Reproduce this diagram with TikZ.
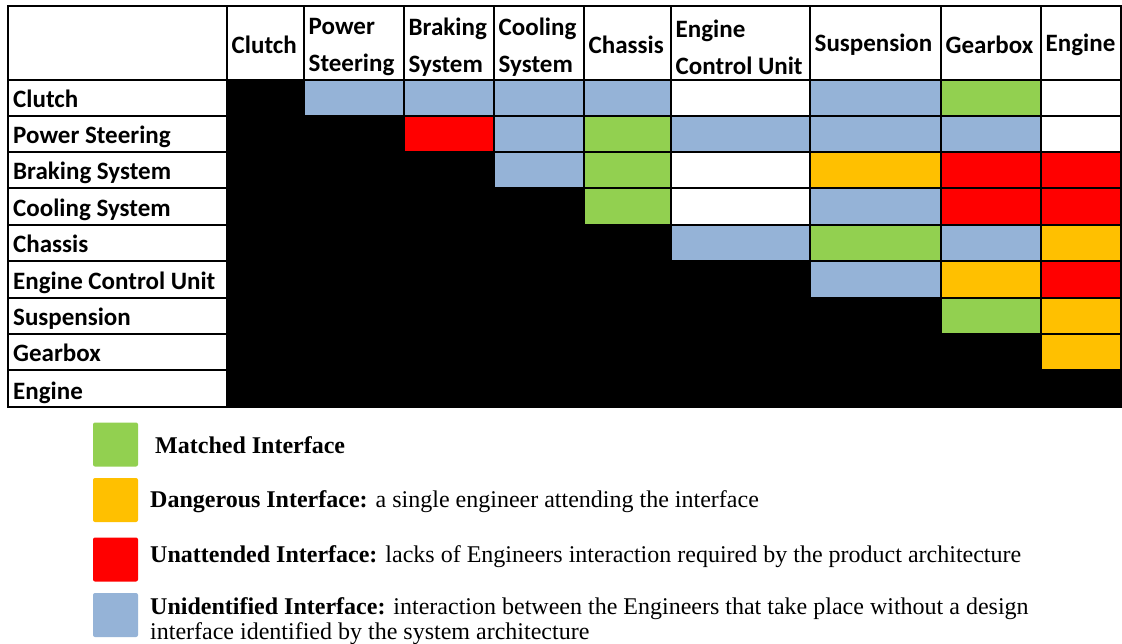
\documentclass[tikz,border=0pt]{standalone}
\usepackage{fontspec}
\setmainfont{Carlito}
\newfontfamily\legfont{Liberation Serif}
\definecolor{cU}{HTML}{95B3D7}
\definecolor{cM}{HTML}{92D050}
\definecolor{cD}{HTML}{FFC000}
\definecolor{cR}{HTML}{FF0000}
\definecolor{cK}{HTML}{000000}
\definecolor{cW}{HTML}{FFFFFF}
\begin{document}
\begin{tikzpicture}[x=1pt,y=-1pt,
  cellbox/.style={draw=black, line width=1.5pt, inner sep=0pt, outer sep=0pt},
  hdr/.style={font=\fontsize{25}{37}\selectfont\bfseries, anchor=west, align=left, inner sep=0pt},
  lbl/.style={font=\fontsize{25}{30}\selectfont\bfseries, anchor=base west, inner sep=0pt},
  swatch/.style={rounded corners=2pt, minimum width=45pt, minimum height=44pt, inner sep=0pt},
  legtxt/.style={font=\legfont\fontsize{24}{25}\selectfont, anchor=base west, align=left, inner sep=0pt}]

\useasboundingbox[fill=white] (0,0) rectangle (1122,644);

% column and row boundaries of the matrix
\def\xs{{8,227,304,404,494,584,671,810,941,1041,1121}}
\def\ys{{6,80,116,152,188,225,261,298,334,370,407}}

% empty corner cell
\node[cellbox, fill=white, minimum width=219pt, minimum height=74pt] (corner) at (117.5,43) {};

% header row
\foreach \c/\t/\dy in {1/Clutch/-2, 2/{Power\\Steering}/-4.5, 3/{Braking\\System}/-4.5, 4/{Cooling\\System}/-4.5,
                   5/Chassis/-2, 6/{Engine\\Control Unit}/-4.5, 7/Suspension/-2, 8/Gearbox/-2, 9/Engine/-2}{
  \pgfmathsetmacro\xl{\xs[\c]}
  \pgfmathsetmacro\xr{\xs[\c+1]}
  \node[cellbox, fill=white, minimum width={(\xr-\xl)*1pt}, minimum height=74pt]
    (h\c) at ({(\xl+\xr)/2},43) {};
  \node[hdr] (ht\c) at ([xshift=4.5pt,yshift=\dy pt]h\c.west) {\t};
}

% body rows: label cell plus one coloured cell per column
\foreach \r/\t/\cells in {
  1/Clutch/{K,U,U,U,U,W,U,M,W},
  2/Power Steering/{K,K,R,U,M,U,U,U,W},
  3/Braking System/{K,K,K,U,M,W,D,R,R},
  4/Cooling System/{K,K,K,K,M,W,U,R,R},
  5/Chassis/{K,K,K,K,K,U,M,U,D},
  6/Engine Control Unit/{K,K,K,K,K,K,U,D,R},
  7/Suspension/{K,K,K,K,K,K,K,M,D},
  8/Gearbox/{K,K,K,K,K,K,K,K,D},
  9/Engine/{K,K,K,K,K,K,K,K,K}}{
  \pgfmathsetmacro\yt{\ys[\r]}
  \pgfmathsetmacro\yb{\ys[\r+1]}
  \node[cellbox, fill=white, minimum width=219pt, minimum height={(\yb-\yt)*1pt}]
    (l\r) at (117.5,{(\yt+\yb)/2}) {};
  \node[lbl] (lt\r) at (13,\yb-8) {\t};
  \foreach \col [count=\c] in \cells {
    \pgfmathsetmacro\xl{\xs[\c]}
    \pgfmathsetmacro\xr{\xs[\c+1]}
    \node[cellbox, fill=c\col, minimum width={(\xr-\xl)*1pt}, minimum height={(\yb-\yt)*1pt}]
      (m\r-\c) at ({(\xl+\xr)/2},{(\yt+\yb)/2}) {};
  }
}

% legend
\node[swatch, fill=cM] (sw1) at (115.5,444.5) {};
\node[swatch, fill=cD] (sw2) at (115.5,500) {};
\node[swatch, fill=cR] (sw3) at (115.5,559.5) {};
\node[swatch, fill=cU] (sw4) at (115.5,615) {};

\node[legtxt] (lg1) at (155,453) {\textbf{Matched Interface}};
\node[legtxt] (lg2) at (150,507) {\textbf{Dangerous Interface:} a single engineer attending the interface};
\node[legtxt] (lg3) at (150,562) {\textbf{Unattended Interface:} lacks of Engineers interaction required by the product architecture};
\node[legtxt, anchor=north west] (lg4) at (150,597) {\textbf{Unidentified Interface:} interaction between the Engineers that take place without a design\\interface identified by the system architecture};
\end{tikzpicture}
\end{document}
